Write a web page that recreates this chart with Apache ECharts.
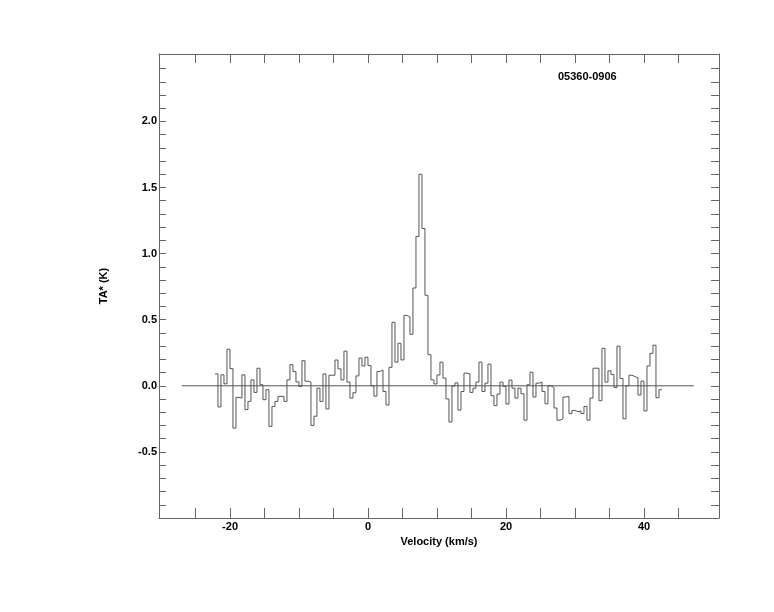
<!DOCTYPE html>
<html>
<head>
<meta charset="utf-8">
<script src="https://cdn.jsdelivr.net/npm/echarts@6/dist/echarts.min.js"></script>
<style>
html,body{margin:0;padding:0;background:#fff;}
#chart{width:774px;height:612px;}
</style>
</head>
<body>
<div id="chart"></div>
<script>
// Spectrum channel grid (km/s): left edge of first channel and channel width
const channelStart = -22.19;
const channelWidth = 0.4348;

// Antenna temperature TA* (K) per channel
const taValues = [
  0.09, -0.16, 0.083, 0.015, 0.277, 0.13, -0.32, -0.088, -0.093, 0.083,
  -0.18, -0.118, 0.045, -0.05, 0.133, 0.008, -0.105, -0.03, -0.307, -0.156,
  -0.118, -0.08, -0.08, -0.118, 0.045, 0.16, 0.108, 0.03, -0.005, 0.19,
  0.035, 0.028, -0.30, -0.23, -0.018, -0.118, 0.09, -0.175, 0.08, 0.08,
  0.195, 0.128, 0.045, 0.262, 0.028, -0.093, -0.052, 0.075, 0.21, 0.15,
  0.216, 0.153, 0.0, -0.078, 0.108, 0.12, -0.043, -0.145, 0.14, 0.48,
  0.179, 0.322, 0.196, 0.533, 0.521, 0.39, 0.74, 1.13, 1.6, 1.19,
  0.685, 0.235, 0.045, 0.014, 0.082, 0.179, 0.058, -0.099, -0.274, -0.002,
  0.022, -0.184, -0.043, 0.096, 0.09, -0.05, -0.018, 0.028, 0.179, -0.043,
  0.02, 0.164, -0.075, -0.15, -0.063, 0.028, -0.005, -0.138, 0.043, -0.018,
  -0.093, -0.018, -0.06, -0.26, 0.008, 0.103, -0.085, 0.02, 0.028, -0.043,
  -0.136, 0.0, -0.013, -0.168, -0.26, -0.25, -0.085, -0.08, -0.21, -0.186,
  -0.196, -0.19, -0.21, -0.156, -0.26, -0.093, 0.133, 0.133, -0.113, 0.284,
  0.028, 0.113, 0.085, -0.013, 0.30, 0.055, -0.25, 0.0, 0.08, 0.07,
  0.06, -0.07, 0.035, -0.19, 0.15, 0.246, 0.307, -0.09, -0.03
];

// Zero baseline extent (km/s)
const baselineX = [-27.0, 47.2];
const baselineY = [0, 0];

// Axis ranges
const xRange = [-30.3, 50.86];
const yRange = [-1.0, 2.51];

// Tick positions and labels
const xTickValues = [-25, -20, -15, -10, -5, 0, 5, 10, 15, 20, 25, 30, 35, 40, 45];
const xLabelValues = [-20, 0, 20, 40];
const yTickValues = [-0.9, -0.8, -0.7, -0.6, -0.5, -0.4, -0.3, -0.2, -0.1,
  0.0, 0.1, 0.2, 0.3, 0.4, 0.5, 0.6, 0.7, 0.8, 0.9, 1.0, 1.1, 1.2, 1.3, 1.4,
  1.5, 1.6, 1.7, 1.8, 1.9, 2.0, 2.1, 2.2, 2.3, 2.4];
const yLabelValues = [-0.5, 0.0, 0.5, 1.0, 1.5, 2.0];

const sourceName = '05360-0906';
const xName = 'Velocity (km/s)';
const yName = 'TA* (K)';

// Build step data: left edge of each channel, plus right edge of last channel
const stepData = taValues.map((v, i) => [channelStart + i * channelWidth, v]);
stepData.push([channelStart + taValues.length * channelWidth, taValues[taValues.length - 1]]);

const axisColor = '#666666';
const font = 'Liberation Sans, Arial, Helvetica, sans-serif';

const chart = echarts.init(document.getElementById('chart'), null, {renderer: 'canvas'});
chart.setOption({
  animation: false,
  backgroundColor: '#ffffff',
  title: {
    text: sourceName,
    left: 558,
    top: 71,
    padding: 0,
    textStyle: {fontFamily: font, fontSize: 11, fontWeight: 'bold', color: '#000'}
  },
  grid: {left: 159, right: 55, top: 54, bottom: 94, containLabel: false},
  xAxis: [
    {
      type: 'value', position: 'bottom', min: xRange[0], max: xRange[1],
      name: xName, nameLocation: 'middle', nameGap: 11,
      nameTextStyle: {fontFamily: font, fontSize: 11, fontWeight: 'bold', color: '#000'},
      axisLine: {show: true, onZero: false, lineStyle: {color: axisColor, width: 1}},
      axisTick: {show: true, inside: true, length: 10, customValues: xTickValues, lineStyle: {color: axisColor}},
      axisLabel: {show: true, margin: 3, customValues: xLabelValues,
        fontFamily: font, fontSize: 11, fontWeight: 'bold', color: '#000',
        formatter: v => String(Math.round(v))},
      splitLine: {show: false}
    },
    {
      type: 'value', position: 'top', min: xRange[0], max: xRange[1],
      axisLine: {show: true, onZero: false, lineStyle: {color: axisColor, width: 1}},
      axisTick: {show: true, inside: true, length: 9, customValues: xTickValues, lineStyle: {color: axisColor}},
      axisLabel: {show: false},
      splitLine: {show: false}
    }
  ],
  yAxis: [
    {
      type: 'value', position: 'left', min: yRange[0], max: yRange[1],
      name: yName, nameLocation: 'middle', nameGap: 50, nameRotate: 90,
      nameTextStyle: {fontFamily: font, fontSize: 11, fontWeight: 'bold', color: '#000'},
      axisLine: {show: true, onZero: false, lineStyle: {color: axisColor, width: 1}},
      axisTick: {show: true, inside: true, length: 7, customValues: yTickValues, lineStyle: {color: axisColor}},
      axisLabel: {show: true, margin: 2, customValues: yLabelValues,
        fontFamily: font, fontSize: 11, fontWeight: 'bold', color: '#000',
        formatter: v => v.toFixed(1)},
      splitLine: {show: false}
    },
    {
      type: 'value', position: 'right', min: yRange[0], max: yRange[1],
      axisLine: {show: true, onZero: false, lineStyle: {color: axisColor, width: 1}},
      axisTick: {show: true, inside: true, length: 8, customValues: yTickValues, lineStyle: {color: axisColor}},
      axisLabel: {show: false},
      splitLine: {show: false}
    }
  ],
  series: [
    {
      type: 'line', xAxisIndex: 0, yAxisIndex: 0,
      data: [[baselineX[0], baselineY[0]], [baselineX[1], baselineY[1]]],
      symbol: 'none', silent: true,
      lineStyle: {color: '#555555', width: 1}
    },
    {
      type: 'line', xAxisIndex: 0, yAxisIndex: 0,
      data: stepData, step: 'end',
      symbol: 'none', silent: true,
      lineStyle: {color: '#555555', width: 1}
    }
  ]
});
</script>
</body>
</html>
